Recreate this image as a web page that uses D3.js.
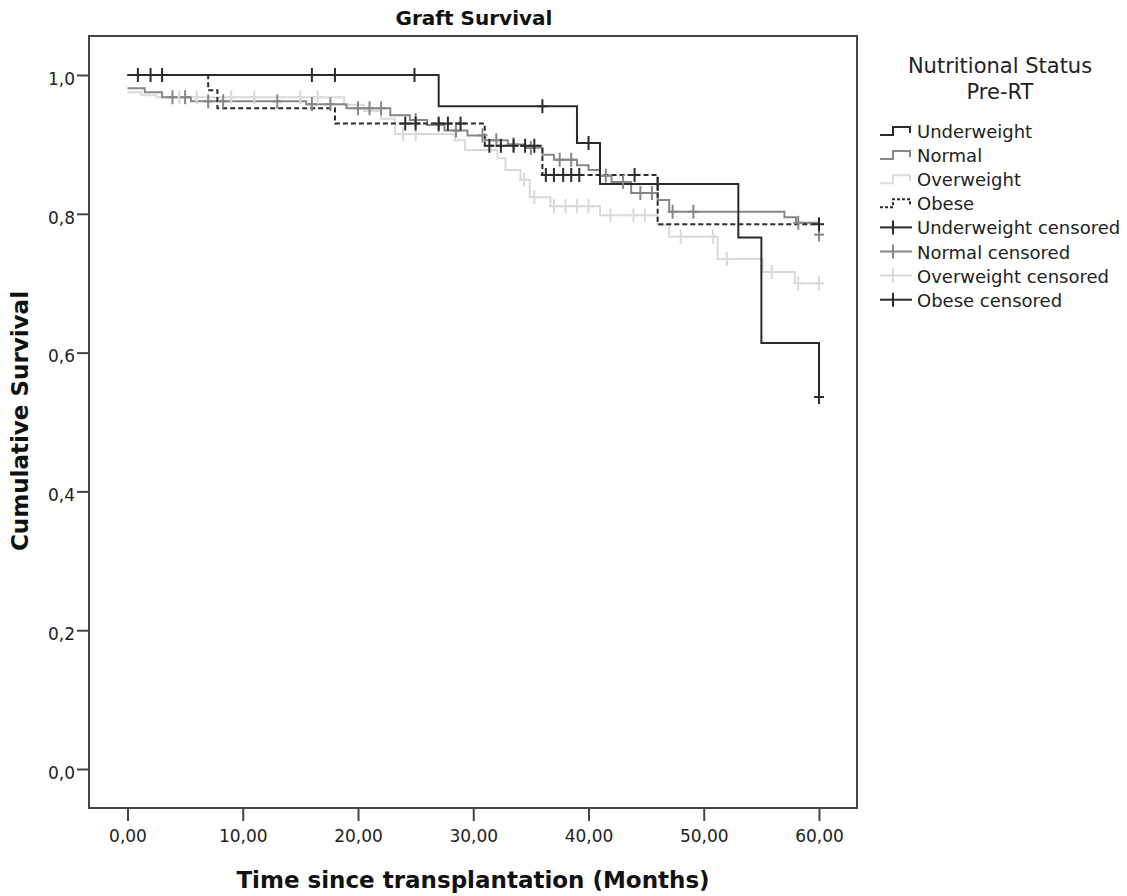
<!DOCTYPE html>
<html>
<head>
<meta charset="utf-8">
<script src="https://cdn.jsdelivr.net/npm/d3@7"></script>
<style>
  body { margin: 0; background: #fff; }
  svg { font-family: "DejaVu Sans", sans-serif; }
</style>
</head>
<body>
<div id="chart"></div>
<script>
// Kaplan-Meier steps: time (months) and survival after each step
const uwTime = [0, 27, 39, 41, 53, 55, 60];
const uwSurv = [1.0, 0.955, 0.902, 0.843, 0.766, 0.614, 0.536];
const uwCens = [0.9, 2.0, 3.0, 16, 18, 24.9, 36, 40, 46, 60];

const nmTime = [0, 1.5, 3, 5.5, 15.5, 19, 22.8, 24.5, 26, 27.5, 29.5, 31, 33, 34.5, 36, 37, 39, 40, 41, 42, 43.7, 46, 47, 57, 58, 60];
const nmSurv = [0.981, 0.975, 0.968, 0.962, 0.958, 0.952, 0.942, 0.935, 0.928, 0.92, 0.913, 0.906, 0.9, 0.895, 0.885, 0.878, 0.87, 0.863, 0.855, 0.846, 0.83, 0.82, 0.803, 0.795, 0.787, 0.770];
const nmCens = [3.9, 5, 7, 8.3, 13, 16, 17.6, 20, 21, 22, 25, 27, 28.5, 30.8, 32, 33.5, 35, 37.5, 38.5, 41.5, 43, 44.5, 45.5, 47.3, 49.1, 58.2, 60];

const owTime = [0, 1.2, 2.5, 18.8, 20.5, 22, 23.2, 28.4, 29.3, 32.1, 32.8, 34.1, 34.9, 36.7, 41, 46, 47, 51.2, 55.1, 57.9, 60];
const owSurv = [0.975, 0.971, 0.968, 0.957, 0.948, 0.937, 0.915, 0.906, 0.892, 0.88, 0.863, 0.849, 0.824, 0.811, 0.798, 0.784, 0.767, 0.735, 0.716, 0.700, 0.700];
const owCens = [4.5, 6, 9, 11, 15, 16.5, 23.9, 25, 34.4, 35.3, 37, 38, 39, 40, 41.9, 43.9, 44.9, 48, 50.8, 52, 55.9, 58.2, 60];

const obTime = [0, 7, 7.8, 18, 31, 36, 46, 60];
const obSurv = [1.0, 0.978, 0.952, 0.930, 0.898, 0.856, 0.785, 0.785];
const obCens = [24.1, 25, 27, 27.8, 28.9, 31.4, 32.4, 33.5, 34.5, 35.3, 36.3, 37, 37.8, 38.5, 39.2, 44, 60];

const xTicks = [0, 10, 20, 30, 40, 50, 60];
const yTicks = [0, 0.2, 0.4, 0.6, 0.8, 1.0];

const legendLabels = ['Underweight', 'Normal', 'Overweight', 'Obese',
  'Underweight censored', 'Normal censored', 'Overweight censored', 'Obese censored'];

const series = [
  { name: 'Overweight', time: owTime, surv: owSurv, cens: owCens, color: '#dadada', dash: null },
  { name: 'Normal', time: nmTime, surv: nmSurv, cens: nmCens, color: '#878787', dash: null },
  { name: 'Obese', time: obTime, surv: obSurv, cens: obCens, color: '#2b2b2b', dash: '5,3' },
  { name: 'Underweight', time: uwTime, surv: uwSurv, cens: uwCens, color: '#2b2b2b', dash: null }
];

const width = 1127, height = 896;
const frame = { left: 89, top: 36, right: 857, bottom: 808 };

const svg = d3.select('#chart').append('svg')
  .attr('width', width)
  .attr('height', height);

const x = d3.scaleLinear().domain([0, 60]).range([127.5, 819]);
const y = d3.scaleLinear().domain([0, 1]).range([769, 75]);

// survival value in force at time t
function survAt(s, t) {
  let v = s.surv[0];
  s.time.forEach((tt, i) => { if (tt <= t) v = s.surv[i]; });
  return v;
}

// curves
const line = d3.line()
  .x(d => x(d[0]))
  .y(d => y(d[1]))
  .curve(d3.curveStepAfter);

series.forEach(s => {
  const pts = s.time.map((t, i) => [t, s.surv[i]]);
  svg.append('path')
    .datum(pts)
    .attr('fill', 'none')
    .attr('stroke', s.color)
    .attr('stroke-width', 2)
    .attr('stroke-dasharray', s.dash)
    .attr('d', line);
});

// censor marks
series.forEach(s => {
  const g = svg.append('g').attr('stroke', s.color).attr('stroke-width', 2);
  s.cens.forEach(t => {
    const cx = x(t), cy = y(survAt(s, t));
    g.append('line').attr('x1', cx).attr('x2', cx).attr('y1', cy - 7).attr('y2', cy + 7);
    g.append('line').attr('x1', cx - 5).attr('x2', cx + 5).attr('y1', cy).attr('y2', cy);
  });
});

// frame
svg.append('rect')
  .attr('x', frame.left).attr('y', frame.top)
  .attr('width', frame.right - frame.left)
  .attr('height', frame.bottom - frame.top)
  .attr('fill', 'none')
  .attr('stroke', '#444')
  .attr('stroke-width', 2);

// axes
const xAxis = svg.append('g')
  .attr('transform', `translate(0,${frame.bottom})`)
  .call(d3.axisBottom(x).tickValues(xTicks).tickSize(13).tickPadding(9)
    .tickFormat(d => d3.format('.2f')(d).replace('.', ',')));
xAxis.select('.domain').remove();

const yAxis = svg.append('g')
  .attr('transform', `translate(${frame.left},0)`)
  .call(d3.axisLeft(y).tickValues(yTicks).tickSize(12).tickPadding(2)
    .tickFormat(d => d3.format('.1f')(d).replace('.', ',')));
yAxis.select('.domain').remove();

svg.selectAll('.tick line').attr('stroke', '#444').attr('stroke-width', 2);
svg.selectAll('.tick text')
  .attr('font-family', '"DejaVu Sans", sans-serif')
  .attr('font-size', 17)
  .attr('fill', '#222');
yAxis.selectAll('.tick text').attr('dy', '0.55em');

// titles
svg.append('text')
  .attr('x', 474).attr('y', 25)
  .attr('text-anchor', 'middle')
  .attr('font-weight', 'bold')
  .attr('font-size', 20)
  .attr('fill', '#111')
  .text('Graft Survival');

svg.append('text')
  .attr('x', 473).attr('y', 888)
  .attr('text-anchor', 'middle')
  .attr('font-weight', 'bold')
  .attr('font-size', 23)
  .attr('fill', '#111')
  .text('Time since transplantation (Months)');

svg.append('text')
  .attr('transform', 'translate(28,421) rotate(-90)')
  .attr('text-anchor', 'middle')
  .attr('font-weight', 'bold')
  .attr('font-size', 23)
  .attr('fill', '#111')
  .text('Cumulative Survival');

// legend
const lg = svg.append('g');
lg.append('text').attr('x', 1000).attr('y', 73).attr('text-anchor', 'middle')
  .attr('font-size', 21).attr('fill', '#222').text('Nutritional Status');
lg.append('text').attr('x', 1000).attr('y', 99).attr('text-anchor', 'middle')
  .attr('font-size', 21).attr('fill', '#222').text('Pre-RT');

const legendStyle = {
  'Underweight': { color: '#2b2b2b', dash: null },
  'Normal': { color: '#878787', dash: null },
  'Overweight': { color: '#dadada', dash: null },
  'Obese': { color: '#2b2b2b', dash: '3,2' }
};

legendLabels.forEach((label, i) => {
  const base = 138 + i * 24.1;
  const key = label.replace(' censored', '');
  const st = legendStyle[key];
  const row = lg.append('g');
  if (i < 4) {
    row.append('path')
      .attr('d', `M880,${base - 3}H893V${base - 11}H910V${base - 5}`)
      .attr('fill', 'none')
      .attr('stroke', st.color)
      .attr('stroke-width', 2)
      .attr('stroke-dasharray', st.dash);
  } else {
    const cy = base - 7;
    row.append('line').attr('x1', 880).attr('x2', 912).attr('y1', cy).attr('y2', cy)
      .attr('stroke', st.color).attr('stroke-width', 2);
    row.append('line').attr('x1', 893).attr('x2', 893).attr('y1', cy - 7).attr('y2', cy + 7)
      .attr('stroke', st.color).attr('stroke-width', 2);
  }
  row.append('text')
    .attr('x', 917).attr('y', base)
    .attr('font-size', 18)
    .attr('fill', '#222')
    .text(label);
});
</script>
</body>
</html>
